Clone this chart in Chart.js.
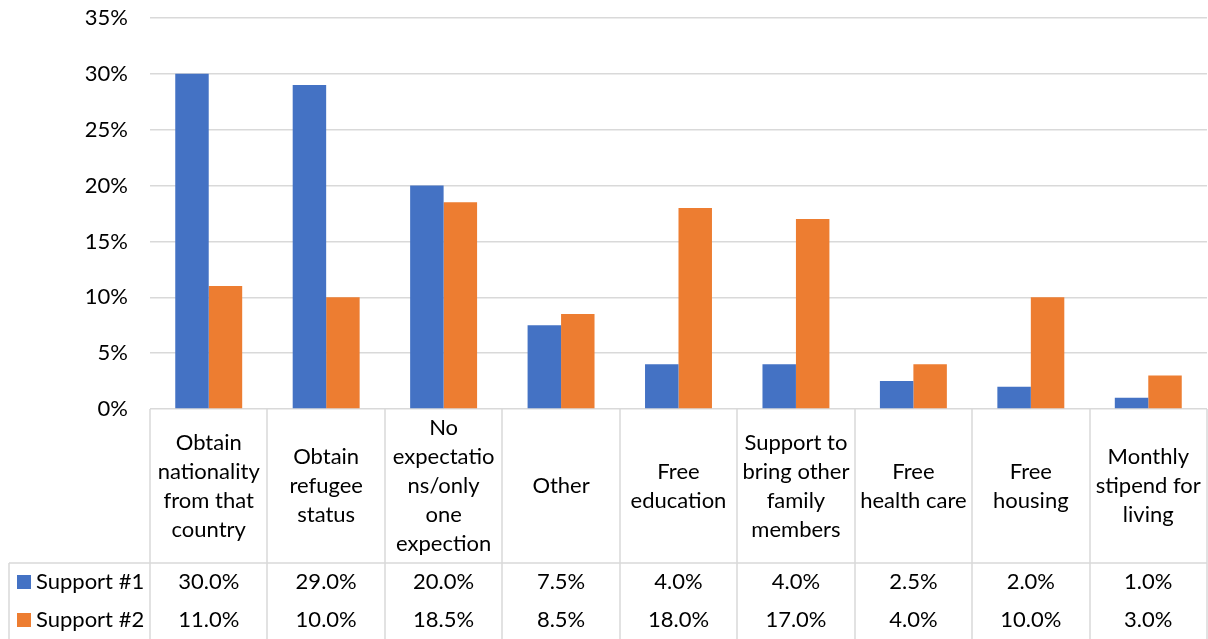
<!DOCTYPE html>
<html lang="en">
<head>
    <meta charset="UTF-8">
    <title>Support expectations</title>
    <style>
        body {
            margin: 0;
            padding: 0;
            background-color: #fff;
        }
        #wrap {
            width: 1208px;
            height: 639px;
        }
    </style>
    <script src="https://cdn.jsdelivr.net/npm/chart.js"></script>
</head>
<body>
    <div id="wrap">
        <canvas id="myChart" width="1208" height="639"></canvas>
    </div>
    <script>
        // category text, already wrapped the way the table shows it
        const categories = [
            ['Obtain', 'nationality', 'from that', 'country'],
            ['Obtain', 'refugee', 'status'],
            ['No', 'expectatio', 'ns/only', 'one', 'expection'],
            ['Other'],
            ['Free', 'education'],
            ['Support to', 'bring other', 'family', 'members'],
            ['Free', 'health care'],
            ['Free', 'housing'],
            ['Monthly', 'stipend for', 'living']
        ];
        const seriesNames = ['Support #1', 'Support #2'];
        const support1 = [30.0, 29.0, 20.0, 7.5, 4.0, 4.0, 2.5, 2.0, 1.0];
        const support2 = [11.0, 10.0, 18.5, 8.5, 18.0, 17.0, 4.0, 10.0, 3.0];
        const yTicks = [0, 5, 10, 15, 20, 25, 30, 35];

        const colors = ['#4472C4', '#ED7D31'];
        const gridColor = '#d9d9d9';
        const textColor = '#000';
        const font = '22px Lato';

        // data table under the plot, laid out from the x scale
        const dataTable = {
            id: 'dataTable',
            afterDraw(chart) {
                const ctx = chart.ctx;
                const area = chart.chartArea;
                const xs = chart.scales.x;
                const colW = (area.right - area.left) / categories.length;
                const H = chart.height;
                const headerBottom = 563;
                const rowH = (H - headerBottom) / 2;
                const tableLeft = 9;

                ctx.save();
                ctx.strokeStyle = gridColor;
                ctx.lineWidth = 1.5;
                ctx.beginPath();
                for (let i = 0; i <= categories.length; i++) {
                    const x = Math.round(area.left + i * colW);
                    ctx.moveTo(x, area.bottom);
                    ctx.lineTo(x, H);
                }
                ctx.moveTo(tableLeft, headerBottom);
                ctx.lineTo(area.right, headerBottom);
                ctx.moveTo(tableLeft, headerBottom);
                ctx.lineTo(tableLeft, H);
                ctx.stroke();

                ctx.fillStyle = textColor;
                ctx.font = font;
                ctx.textAlign = 'center';
                ctx.textBaseline = 'middle';

                const lineH = 29;
                const headMid = (area.bottom + headerBottom) / 2;
                categories.forEach((lines, i) => {
                    const cx = xs.getPixelForValue(i);
                    const y0 = headMid - (lines.length - 1) * lineH / 2;
                    lines.forEach((t, j) => ctx.fillText(t, cx, y0 + j * lineH));
                });

                const rows = [support1, support2];
                rows.forEach((vals, r) => {
                    const cy = headerBottom + rowH * r + rowH / 2;
                    ctx.textAlign = 'center';
                    ctx.fillStyle = textColor;
                    vals.forEach((v, i) => {
                        ctx.fillText(v.toFixed(1) + '%', xs.getPixelForValue(i), cy);
                    });
                    // legend key + series name
                    ctx.fillStyle = colors[r];
                    ctx.fillRect(17, cy - 7, 14, 14);
                    ctx.fillStyle = textColor;
                    ctx.textAlign = 'left';
                    ctx.fillText(seriesNames[r], 36, cy);
                });
                ctx.restore();
            }
        };

        const ctx = document.getElementById('myChart').getContext('2d');
        const myChart = new Chart(ctx, {
            type: 'bar',
            data: {
                labels: categories.map(c => c.join(' ')),
                datasets: [{
                    label: seriesNames[0],
                    data: support1,
                    backgroundColor: colors[0],
                    borderWidth: 0
                }, {
                    label: seriesNames[1],
                    data: support2,
                    backgroundColor: colors[1],
                    borderWidth: 0
                }]
            },
            options: {
                responsive: false,
                animation: false,
                barPercentage: 1,
                categoryPercentage: 0.57,
                layout: {
                    padding: { top: 18, right: 1, bottom: 230, left: 0 }
                },
                plugins: {
                    legend: { display: false },
                    tooltip: { enabled: false }
                },
                scales: {
                    x: {
                        display: false
                    },
                    y: {
                        min: 0,
                        max: 35,
                        afterFit(scale) {
                            scale.width = 150;
                            scale.paddingTop = 0;
                            scale.paddingBottom = 0;
                        },
                        afterBuildTicks(scale) {
                            scale.ticks = yTicks.map(v => ({ value: v }));
                        },
                        border: { display: false },
                        grid: {
                            color: gridColor,
                            lineWidth: 1.5,
                            drawTicks: false
                        },
                        ticks: {
                            padding: 22,
                            color: textColor,
                            font: { family: 'Lato', size: 22 },
                            callback: v => v + '%'
                        }
                    }
                }
            },
            plugins: [dataTable]
        });
    </script>
</body>
</html>
